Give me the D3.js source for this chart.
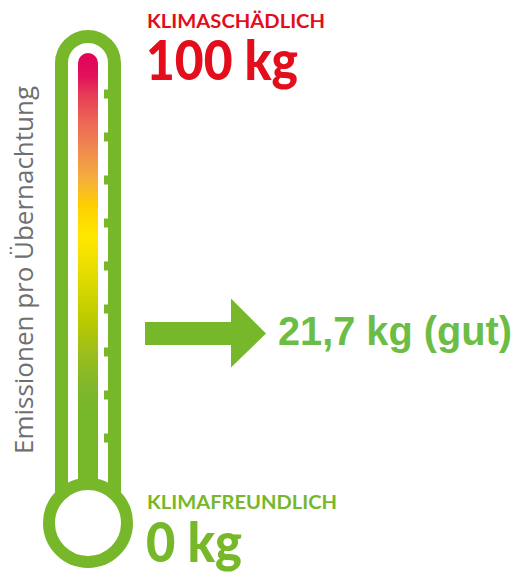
<!DOCTYPE html>
<html>
<head>
<meta charset="utf-8">
<script src="https://cdn.jsdelivr.net/npm/d3@7"></script>
<style>
  html, body { margin: 0; padding: 0; background: #fff; }
</style>
</head>
<body>
<script>
// Werte
const axisTitle = "Emissionen pro Übernachtung";
const topLabel = "KLIMASCHÄDLICH";
const bottomLabel = "KLIMAFREUNDLICH";
const scaleMax = 100;
const scaleMin = 0;
const tickValues = [10, 20, 30, 40, 50, 60, 70, 80, 90];
const value = 21.7;
const valueText = "21,7 kg (gut)";
// Farbverlauf (Wert -> Farbe)
const gradValues = [100, 94, 90, 84, 77, 70, 64, 57, 51, 44, 37, 30, 22, 16, 0];
const gradColors = ["#e3005b", "#e2115a", "#e63b55", "#ec6456", "#f08a4f", "#f6b03b", "#fdd000",
                    "#ffe800", "#efe000", "#d4d600", "#b9ca00", "#9dbe1c", "#7fb72b", "#76b82a", "#76b82a"];

const green = "#76b82a";
const red = "#e30d1b";

const svg = d3.select("body").append("svg")
    .attr("width", 515)
    .attr("height", 572);

const y = d3.scaleLinear().domain([scaleMin, scaleMax]).range([481, 51]);
const cx = 88;

// gradient
const grad = svg.append("defs").append("linearGradient")
    .attr("id", "thermo")
    .attr("gradientUnits", "userSpaceOnUse")
    .attr("x1", 0).attr("x2", 0)
    .attr("y1", y(scaleMax)).attr("y2", y(scaleMin));
grad.selectAll("stop")
    .data(gradValues)
    .enter().append("stop")
    .attr("offset", d => (scaleMax - d) / (scaleMax - scaleMin))
    .attr("stop-color", (d, i) => gradColors[i]);

// fill bar
svg.append("rect")
    .attr("x", cx - 10).attr("width", 20)
    .attr("y", y(scaleMax) + 2)
    .attr("height", y(scaleMin) + 20 - y(scaleMax) - 2)
    .attr("rx", 10)
    .attr("fill", "url(#thermo)");

// tube walls
const wallTop = 63;
const p = d3.path();
p.moveTo(cx - 26.5, 496);
p.lineTo(cx - 26.5, wallTop);
p.arc(cx, wallTop, 26.5, Math.PI, 0);
p.lineTo(cx + 26.5, 496);
svg.append("path")
    .attr("d", p.toString())
    .attr("fill", "none")
    .attr("stroke", green)
    .attr("stroke-width", 13);

// ticks
svg.selectAll("rect.tick")
    .data(tickValues)
    .enter().append("rect")
    .attr("class", "tick")
    .attr("x", cx + 16)
    .attr("width", 6)
    .attr("y", d => y(d) - 4.5)
    .attr("height", 9)
    .attr("fill", green);

// bulb
svg.append("circle")
    .attr("cx", cx).attr("cy", 523).attr("r", 39)
    .attr("fill", "#fff")
    .attr("stroke", green)
    .attr("stroke-width", 12);

// axis title
svg.append("text")
    .attr("transform", "translate(33,270) rotate(-90)")
    .attr("text-anchor", "middle")
    .attr("font-family", "'Open Sans', sans-serif")
    .attr("font-size", 25)
    .attr("fill", "#6f6f6f")
    .attr("textLength", 368)
    .attr("lengthAdjust", "spacingAndGlyphs")
    .text(axisTitle);

// labels top
svg.append("text")
    .attr("x", 147).attr("y", 28)
    .attr("font-family", "Lato, sans-serif")
    .attr("font-weight", 700)
    .attr("font-size", 18)
    .attr("fill", red)
    .attr("textLength", 178)
    .attr("lengthAdjust", "spacingAndGlyphs")
    .text(topLabel);

svg.append("text")
    .attr("x", 146).attr("y", 80)
    .attr("font-family", "Lato, sans-serif")
    .attr("font-weight", 900)
    .attr("font-size", 56)
    .attr("fill", red)
    .attr("textLength", 152)
    .attr("lengthAdjust", "spacingAndGlyphs")
    .text(scaleMax + " kg");

// labels bottom
svg.append("text")
    .attr("x", 147).attr("y", 509)
    .attr("font-family", "Lato, sans-serif")
    .attr("font-weight", 700)
    .attr("font-size", 18)
    .attr("fill", green)
    .attr("textLength", 190)
    .attr("lengthAdjust", "spacingAndGlyphs")
    .text(bottomLabel);

svg.append("text")
    .attr("x", 146).attr("y", 562)
    .attr("font-family", "Lato, sans-serif")
    .attr("font-weight", 900)
    .attr("font-size", 55)
    .attr("fill", green)
    .attr("textLength", 96)
    .attr("lengthAdjust", "spacingAndGlyphs")
    .text(scaleMin + " kg");

// arrow + value
const ay = 333.5;
const arrow = d3.path();
arrow.moveTo(145, ay - 11.5);
arrow.lineTo(231, ay - 11.5);
arrow.lineTo(231, ay - 35);
arrow.lineTo(266, ay);
arrow.lineTo(231, ay + 34);
arrow.lineTo(231, ay + 11.5);
arrow.lineTo(145, ay + 11.5);
arrow.closePath();
svg.append("path")
    .attr("d", arrow.toString())
    .attr("fill", green);

svg.append("text")
    .attr("x", 278).attr("y", 345)
    .attr("font-family", "'Liberation Sans', Arial, sans-serif")
    .attr("font-weight", 700)
    .attr("font-size", 40)
    .attr("fill", "#6cbd45")
    .attr("textLength", 234)
    .attr("lengthAdjust", "spacingAndGlyphs")
    .text(valueText);
</script>
</body>
</html>
